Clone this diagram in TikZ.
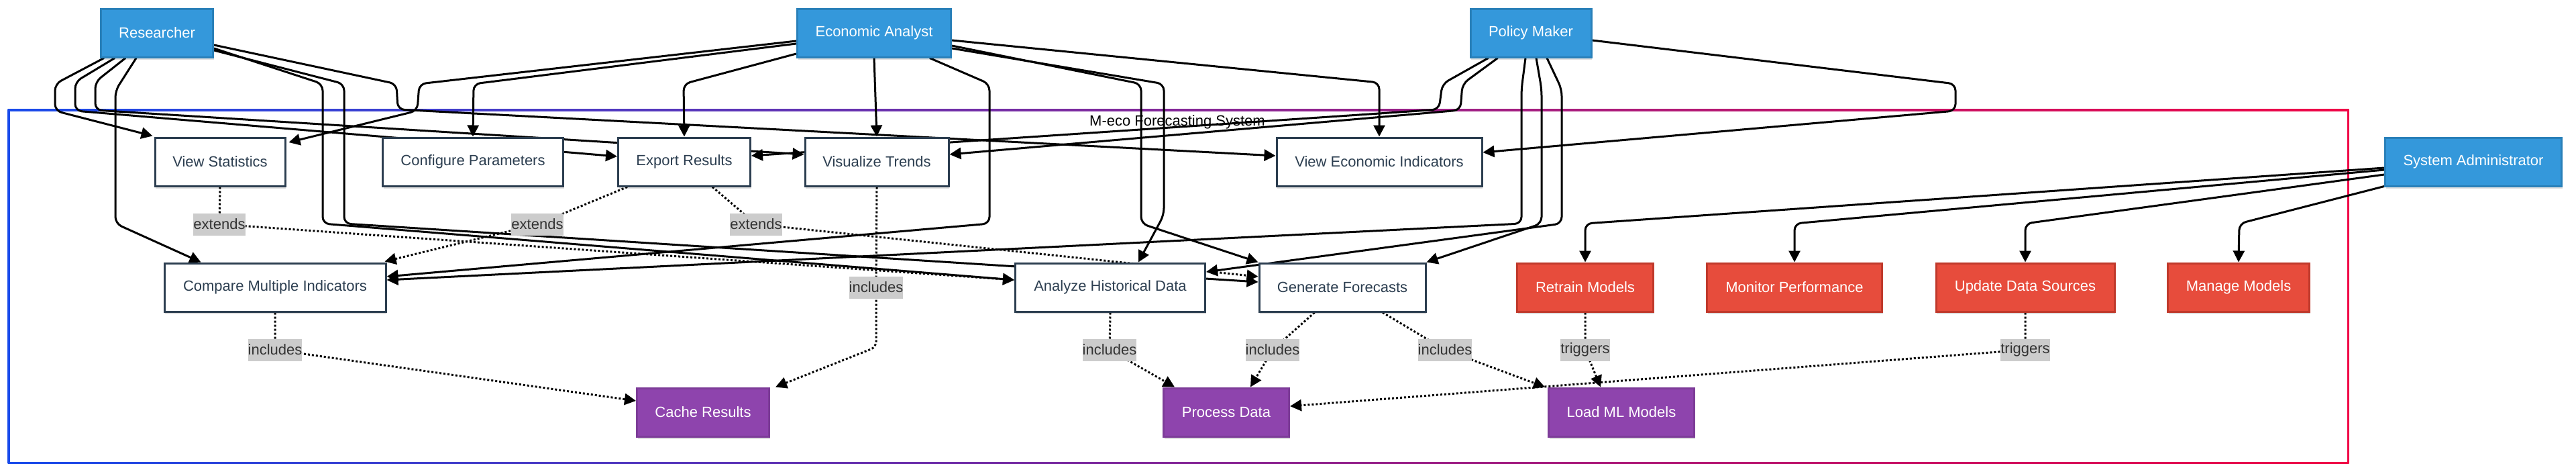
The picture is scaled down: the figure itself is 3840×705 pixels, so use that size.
\documentclass[tikz,border=0pt]{standalone}
\usepackage{fontspec}
\setmainfont{Liberation Sans}
\usetikzlibrary{arrows.meta,calc,shadows}
\pgfdeclarelayer{bg}
\pgfdeclarelayer{edges}
\pgfsetlayers{bg,edges,main}
\definecolor{actorfill}{HTML}{3498DB}
\definecolor{actorline}{HTML}{2980B9}
\definecolor{ucline}{HTML}{2C3E50}
\definecolor{adminfill}{HTML}{E74C3C}
\definecolor{adminline}{HTML}{C0392B}
\definecolor{incfill}{HTML}{8E44AD}
\definecolor{incline}{HTML}{7D3C98}
\definecolor{lblfill}{HTML}{CCCCCC}
\definecolor{lbltext}{HTML}{333333}
\definecolor{gstart}{RGB}{25,75,235}
\definecolor{gend}{RGB}{240,5,70}
\begin{document}
\begin{tikzpicture}[x=1pt,y=-1pt,
  font=\fontsize{22}{26}\selectfont,
  box/.style={rectangle, minimum height=72pt, line width=3pt, inner sep=0pt,
    drop shadow={shadow xshift=1pt, shadow yshift=-4pt, opacity=0.12, fill=black}},
  actor/.style={box, fill=actorfill, draw=actorline, text=white},
  uc/.style={box, fill=white, draw=ucline, text=ucline},
  admin/.style={box, fill=adminfill, draw=adminline, text=white},
  inc/.style={box, fill=incfill, draw=incline, text=white},
  lbl/.style={rectangle, fill=lblfill, text=lbltext, inner sep=0pt, minimum height=33pt},
  conn/.style={line width=3pt, rounded corners=10pt, -{Triangle[length=17pt,width=17pt]}},
  dconn/.style={line width=3pt, dash pattern=on 3pt off 3pt, rounded corners=8pt, -{Triangle[length=17pt,width=17pt]}}
]
\useasboundingbox (0,0) rectangle (3840,705);

% ---------- background and system boundary ----------
\begin{pgfonlayer}{bg}
  \fill[white] (0,0) rectangle (3840,705);
  \shade[left color=gstart, right color=gend] (11.5,162.5) rectangle (3501.5,690.5);
  \fill[white] (14.5,165.5) rectangle (3498.5,687.5);
  \node[text=black, inner sep=0pt] (title) at (1755,182) {M-eco Forecasting System};
\end{pgfonlayer}

% ---------- actors ----------
\node[actor, minimum width=167pt] (R)  at (234,49)   {Researcher};
\node[actor, minimum width=229pt] (EA) at (1303,49)  {Economic Analyst};
\node[actor, minimum width=180pt] (PM) at (2282,49)  {Policy Maker};
\node[actor, minimum width=263pt] (SA) at (3687,241) {System Administrator};

% ---------- use cases ----------
\node[uc, minimum width=194pt] (VS)  at (328,241)  {View Statistics};
\node[uc, minimum width=269pt] (CP)  at (705,241)  {Configure Parameters};
\node[uc, minimum width=197pt] (ER)  at (1020,241) {Export Results};
\node[uc, minimum width=214pt] (VT)  at (1307,241) {Visualize Trends};
\node[uc, minimum width=306pt] (VEI) at (2056,241) {View Economic Indicators};
\node[uc, minimum width=330pt] (CMI) at (410,428)  {Compare Multiple Indicators};
\node[uc, minimum width=283pt] (AHD) at (1655,428) {Analyze Historical Data};
\node[uc, minimum width=248pt] (GF)  at (2001,428) {Generate Forecasts};
\node[admin, minimum width=203pt] (RM)  at (2363,428) {Retrain Models};
\node[admin, minimum width=261pt] (MP)  at (2675,428) {Monitor Performance};
\node[admin, minimum width=266pt] (UDS) at (3019,428) {Update Data Sources};
\node[admin, minimum width=211pt] (MM)  at (3337,428) {Manage Models};
\node[inc, minimum width=197pt] (CR)  at (1048,614) {Cache Results};
\node[inc, minimum width=187pt] (PD)  at (1828,614) {Process Data};
\node[inc, minimum width=217pt] (LML) at (2417,614) {Load ML Models};

% ---------- edge labels ----------
\node[lbl] (L1)  at (327,334)  {extends};
\node[lbl] (L2)  at (801,334)  {extends};
\node[lbl] (L3)  at (1127,334) {extends};
\node[lbl] (L4)  at (1306,428) {includes};
\node[lbl] (L5)  at (410,521)  {includes};
\node[lbl] (L6)  at (1654,521) {includes};
\node[lbl] (L7)  at (1897,521) {includes};
\node[lbl] (L8)  at (2154,521) {includes};
\node[lbl] (L9)  at (2363,521) {triggers};
\node[lbl] (L10) at (3019,521) {triggers};

\begin{pgfonlayer}{edges}
% Researcher
\draw[conn] ($(R.south west)+(6,0)$) -- (82,125) -- (82,165) -- ($(VS.north west)+(-2,-1)$);
\draw[conn] ($(R.south west)+(22,0)$) -- (112,122) -- (112,165) -- ($(ER.west)+(0,-8)$);
\draw[conn] ($(R.south west)+(38,0)$) -- (142,122) -- (142,164) -- ($(VT.west)+(0,-11)$);
\draw[conn] ($(R.south west)+(54,0)$) -- (172,135) -- (172,333) -- ($(CMI.north west)+(56,0)$);
\draw[conn] ($(R.east)+(0,18)$) -- (591,125) -- (593,163) -- ($(VEI.west)+(0,-9)$);
\draw[conn] ($(R.east)+(0,23)$) -- (481,125) -- (481,333) -- ($(AHD.west)+(0,-11)$);
\draw[conn] ($(R.east)+(0,26)$) -- (513,125) -- (513,333) -- ($(GF.west)+(0,-8)$);
% Economic Analyst
\draw[conn] ($(EA.west)+(0,12)$) -- (625,125) -- (622,165) -- ($(VS.east)+(4,-29)$);
\draw[conn] ($(EA.west)+(0,16)$) -- (706,125) -- (CP.north);
\draw[conn] ($(EA.west)+(0,31)$) -- (1019,125) -- (ER.north);
\draw[conn] (EA.south) -- (VT.north);
\draw[conn] ($(EA.south east)+(-33,0)$) -- (1475,125) -- (1475,333) -- ($(CMI.east)+(0,-16)$);
\draw[conn] ($(EA.east)+(0,11)$) -- (2056,123) -- (VEI.north);
\draw[conn] ($(EA.east)+(0,19)$) -- (1701,125) -- (1701,333) -- (GF.north west);
\draw[conn] ($(EA.east)+(0,23)$) -- (1735,125) -- (1735,320) -- ($(AHD.north)+(42,0)$);
% Policy Maker
\draw[conn] ($(PM.south west)+(28,0)$) -- (2150,125) -- (2145,163) -- ($(ER.east)+(0,-9)$);
\draw[conn] ($(PM.south west)+(42,0)$) -- (2180,125) -- (2177,164) -- ($(VT.east)+(0,-11)$);
\draw[conn] ($(PM.south)+(-8,0)$) -- (2268,133) -- (2268,333) -- ($(CMI.east)+(0,-11)$);
\draw[conn] ($(PM.south)+(8,0)$) -- (2298,133) -- (2298,333) -- (GF.north east);
\draw[conn] ($(PM.south)+(24,0)$) -- (2328,133) -- (2328,333) -- ($(AHD.east)+(0,-23)$);
\draw[conn] ($(PM.east)+(0,11)$) -- (2915,125) -- (2915,165) -- ($(VEI.east)+(0,-14)$);
% System Administrator
\draw[conn] ($(SA.west)+(0,9)$) -- (2363,333) -- (RM.north);
\draw[conn] ($(SA.west)+(0,12)$) -- (2675,333) -- (MP.north);
\draw[conn] ($(SA.west)+(0,19)$) -- (3019,333) -- (UDS.north);
\draw[conn] ($(SA.south west)+(0,-1)$) -- (3338,333) -- (MM.north);
% dotted relations
\draw[dconn] (VS.south) -- (L1.center) -- ($(AHD.west)+(0,-11)$);
\draw[dconn] ($(ER.south west)+(15,0)$) -- (L2.center) -- ($(CMI.north east)+(-3,-1)$);
\draw[dconn] ($(ER.south)+(42,0)$) -- (L3.center) -- ($(GF.west)+(0,-16)$);
\draw[dconn] (VT.south) -- (L4.center) -- (1306,517) -- ($(CR.north east)+(8,0)$);
\draw[dconn] (CMI.south) -- (L5.center) -- ($(CR.west)+(0,-17)$);
\draw[dconn] (AHD.south) -- (L6.center) -- ($(PD.north west)+(18,0)$);
\draw[dconn] ($(GF.south west)+(84,0)$) -- (L7.center) -- ($(PD.north)+(36,0)$);
\draw[dconn] ($(GF.south)+(60,0)$) -- (L8.center) -- ($(LML.north west)+(-4,0)$);
\draw[dconn] (RM.south) -- (L9.center) -- ($(LML.north)+(-31,0)$);
\draw[dconn] (UDS.south) -- (L10.center) -- ($(PD.east)+(0,-9)$);
\end{pgfonlayer}
\end{tikzpicture}
\end{document}
